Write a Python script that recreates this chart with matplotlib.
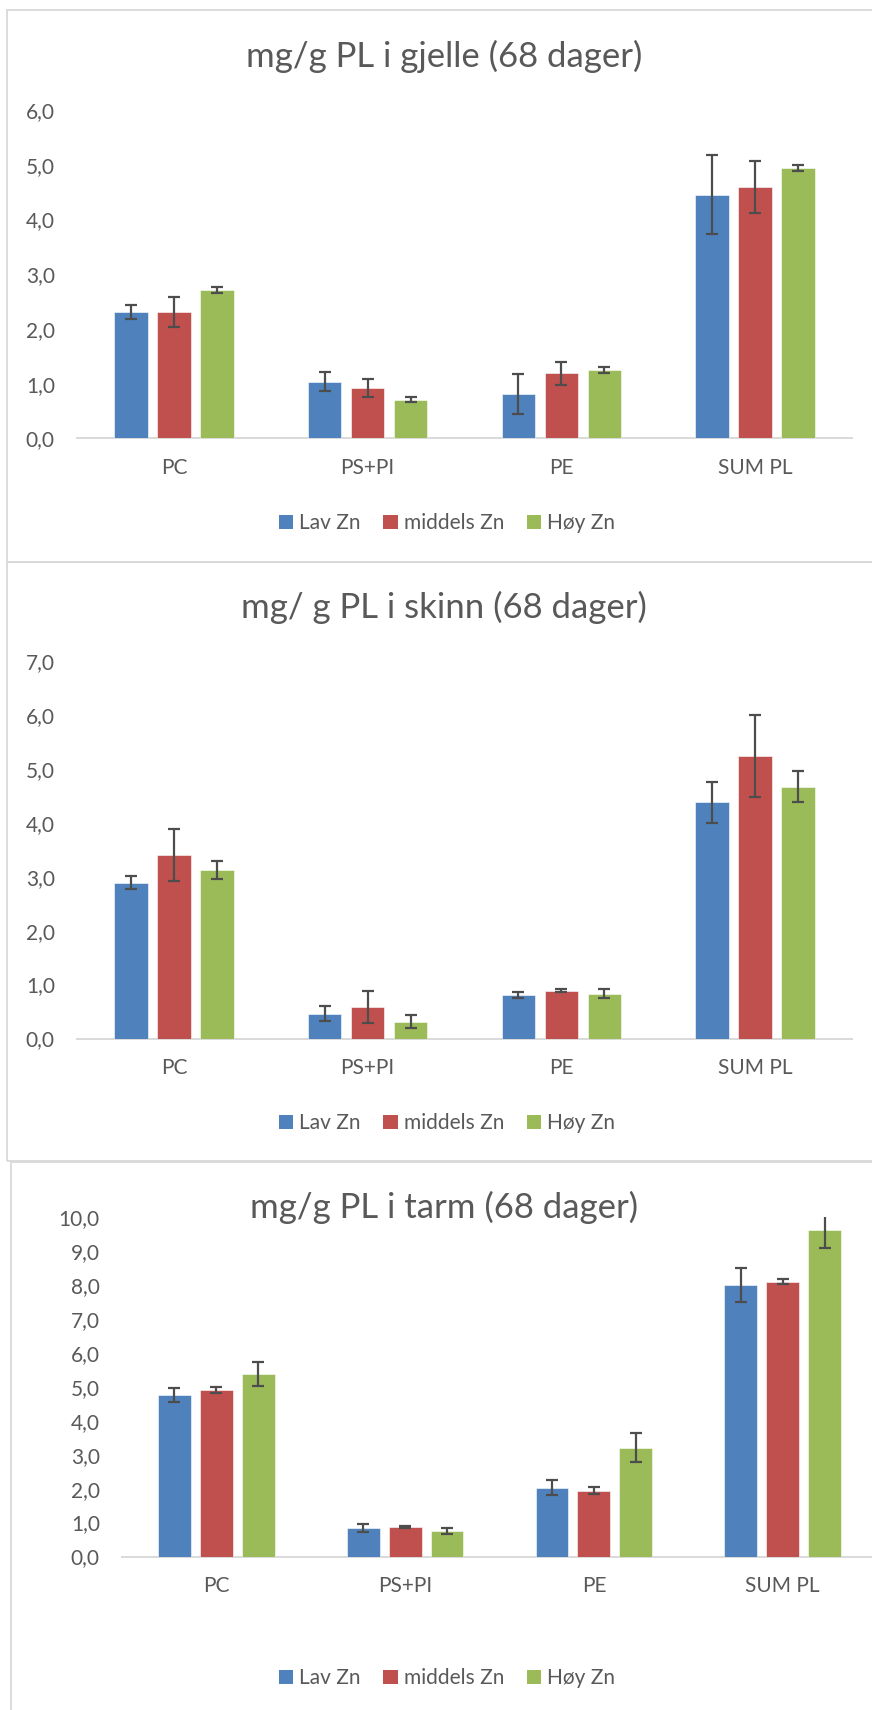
import matplotlib
matplotlib.use("Agg")
import matplotlib.pyplot as plt
import numpy as np
from matplotlib.patches import Rectangle

plt.rcParams['font.family'] = ['Lato', 'DejaVu Sans']

categories = ["PC", "PS+PI", "PE", "SUM PL"]
series_names = ["Lav Zn", "middels Zn", "Høy Zn"]
colors = ["#4F81BD", "#C0504D", "#9BBB59"]

# Panel 1: gjelle
gjelle_lav = [2.31, 1.04, 0.81, 4.45]
gjelle_mid = [2.31, 0.92, 1.19, 4.59]
gjelle_hoy = [2.71, 0.71, 1.25, 4.94]
gjelle_lav_err = [0.12, 0.17, 0.37, 0.72]
gjelle_mid_err = [0.27, 0.17, 0.21, 0.48]
gjelle_hoy_err = [0.05, 0.05, 0.05, 0.05]

# Panel 2: skinn
skinn_lav = [2.89, 0.46, 0.81, 4.38]
skinn_mid = [3.40, 0.58, 0.89, 5.24]
skinn_hoy = [3.13, 0.31, 0.83, 4.67]
skinn_lav_err = [0.12, 0.135, 0.06, 0.38]
skinn_mid_err = [0.48, 0.30, 0.02, 0.76]
skinn_hoy_err = [0.17, 0.12, 0.085, 0.29]

# Panel 3: tarm
tarm_lav = [4.75, 0.84, 2.03, 7.99]
tarm_mid = [4.90, 0.88, 1.94, 8.10]
tarm_hoy = [5.37, 0.74, 3.21, 9.62]
tarm_lav_err = [0.21, 0.105, 0.225, 0.50]
tarm_mid_err = [0.095, 0.03, 0.10, 0.08]
tarm_hoy_err = [0.345, 0.085, 0.42, 0.53]

titles = ["mg/g PL i gjelle (68 dager)", "mg/ g PL i skinn (68 dager)", "mg/g PL i tarm (68 dager)"]
ymax = [6, 7, 10]

W, H = 872, 1710
fig = plt.figure(figsize=(W / 100, H / 100), dpi=100)

TXT = "#595959"
GRID = "#D9D9D9"

def fx(px):
    return px / W

def fy(py):
    return 1 - py / H

# panel borders (pixel coordinates)
borders = [(7, 10, 900, 562), (7, 562, 900, 1161), (11, 1162, 900, 1760)]
for (x0, y0, x1, y1) in borders:
    fig.patches.append(Rectangle((fx(x0), fy(y1)), fx(x1 - x0), (y1 - y0) / H,
                                 transform=fig.transFigure, fill=False,
                                 edgecolor=GRID, linewidth=1.3, zorder=0))

# axes rects in pixel coords: (left, top, right, bottom)
axes_px = [(77, 110, 852, 438.5), (77, 661, 852, 1038.5), (122, 1217, 877, 1556.5)]
title_y = [56, 607, 1207]
legend_y = [523, 1123, 1678]

data = [
    (gjelle_lav, gjelle_mid, gjelle_hoy, gjelle_lav_err, gjelle_mid_err, gjelle_hoy_err),
    (skinn_lav, skinn_mid, skinn_hoy, skinn_lav_err, skinn_mid_err, skinn_hoy_err),
    (tarm_lav, tarm_mid, tarm_hoy, tarm_lav_err, tarm_mid_err, tarm_hoy_err),
]

x = np.arange(len(categories))
offset = 0.222
width = 0.174

for p in range(3):
    l, t, r, b = axes_px[p]
    ax = fig.add_axes([fx(l), fy(b), fx(r - l), (b - t) / H])
    vals = data[p][:3]
    errs = data[p][3:]
    handles = []
    for j in range(3):
        h = ax.bar(x + (j - 1) * offset, vals[j], width, color=colors[j],
                   edgecolor="white", linewidth=0.4,
                   yerr=errs[j],
                   error_kw=dict(ecolor="#4D4D4D", elinewidth=1.6, capsize=4.5, capthick=1.6),
                   label=series_names[j], zorder=2)
        handles.append(h)
    ax.set_xlim(-0.5, 3.5)
    ax.set_ylim(0, ymax[p])
    ax.set_yticks(np.arange(0, ymax[p] + 1))
    ax.set_yticklabels([f"{v:.1f}".replace(".", ",") for v in np.arange(0, ymax[p] + 1)])
    ax.set_xticks(x)
    ax.set_xticklabels(categories)
    for s in ["top", "right", "left"]:
        ax.spines[s].set_visible(False)
    ax.spines["bottom"].set_color(GRID)
    ax.spines["bottom"].set_linewidth(1.4)
    ax.spines["bottom"].set_zorder(1)
    ax.tick_params(axis="both", length=0, labelsize=15, colors=TXT)
    ax.tick_params(axis="y", pad=16)
    ax.tick_params(axis="x", pad=14)
    ax.patch.set_alpha(0)

    fig.text(0.509, fy(title_y[p]), titles[p], ha="center", va="center",
             fontsize=25, color=TXT)

    leg = fig.legend(handles=handles, labels=series_names, loc="center",
                     bbox_to_anchor=(fx(447), fy(legend_y[p])), ncol=3,
                     frameon=False, fontsize=15, handlelength=0.68, handleheight=0.68,
                     handletextpad=0.3, columnspacing=1.1, labelcolor=TXT)
    for hnd in leg.legend_handles:
        hnd.set_edgecolor("none")

fig.savefig("out.png", dpi=100)
